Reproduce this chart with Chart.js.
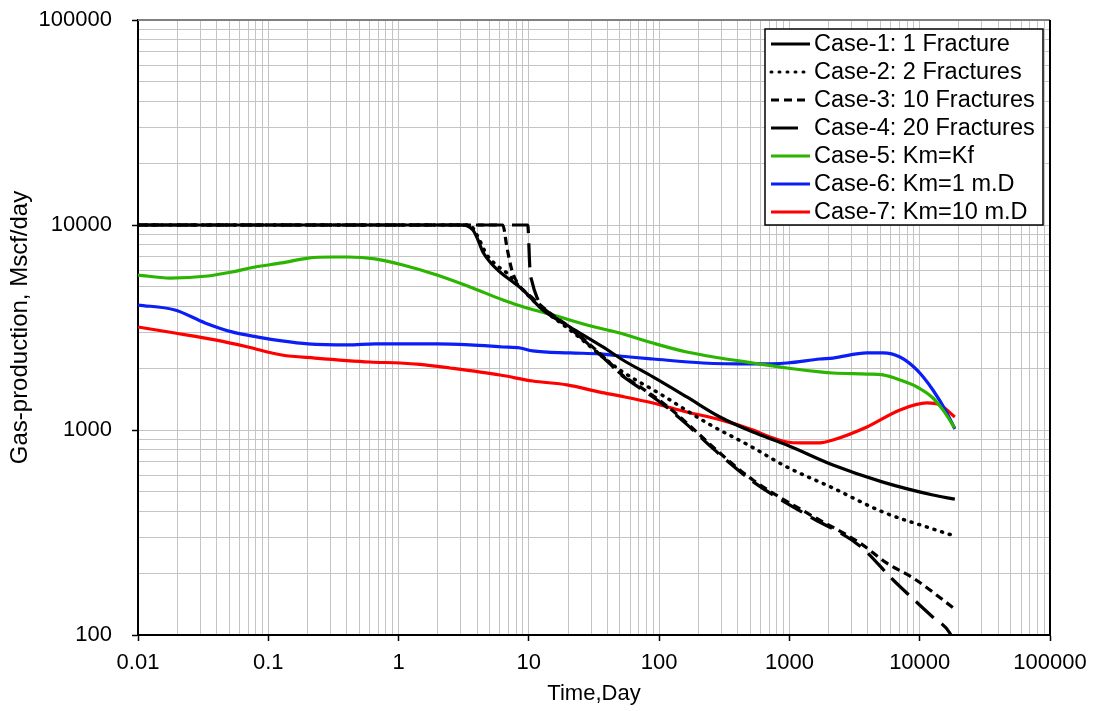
<!DOCTYPE html>
<html><head><meta charset="utf-8">
<script src="https://cdn.jsdelivr.net/npm/chart.js@4.4.1/dist/chart.umd.min.js"></script>
<style>html,body{margin:0;padding:0;background:#fff;} canvas{display:block;}</style>
</head><body>
<canvas id="c" width="1097" height="711"></canvas>
<script>
const seriesLabels = ['Case-1: 1 Fracture','Case-2: 2 Fractures','Case-3: 10 Fractures','Case-4: 20 Fractures','Case-5: Km=Kf','Case-6: Km=1 m.D','Case-7: Km=10 m.D'];

const case1Days = [0.01, 3.0, 3.72, 4.07, 4.44, 5.03, 6.0, 7.55, 9.01, 12.8, 20.7, 37.0, 52.7, 89.6, 163, 293, 525, 957, 2158, 5220, 12630, 18600];
const case1Gas  = [10000, 10000, 9460, 8450, 7390, 6600, 5900, 5270, 4820, 3850, 3180, 2541, 2195, 1815, 1449, 1157, 977, 845, 675, 557, 482, 460];

const case2Days = [0.01, 3.5, 4.0, 4.77, 5.6, 6.79, 8.5, 12.2, 20.7, 50, 105, 233, 515, 957, 2158, 5220, 12630, 18600];
const case2Gas  = [10000, 10000, 8935, 7140, 6400, 5830, 5000, 3980, 3075, 1963, 1482, 1082, 826, 660, 521, 398, 329, 304];

const case3Days = [0.01, 6.3, 6.8, 7.4, 8.1, 10.7, 14.5, 19.6, 41.9, 50, 71.3, 107, 163, 259, 525, 1362, 3475, 5600, 8870, 18600];
const case3Gas  = [10000, 10000, 7720, 6035, 5270, 4400, 3720, 3250, 2123, 1897, 1622, 1355, 1082, 826, 570, 394, 281, 224, 190, 134];

const case4Days = [0.01, 9.8, 10.2, 10.6, 11.5, 12.8, 14.5, 19.6, 41.9, 50, 71.3, 107, 163, 259, 525, 1362, 3475, 6230, 12630, 17060, 18600];
const case4Gas  = [10000, 10000, 6035, 5270, 4456, 3980, 3700, 3220, 2100, 1880, 1600, 1335, 1065, 812, 560, 385, 272, 186, 122, 102, 89];

const case5Days = [0.01, 0.0176, 0.0344, 0.0526, 0.079, 0.127, 0.202, 0.308, 0.409, 0.659, 1.08, 1.97, 3.53, 6.33, 9.67, 15.3, 27.9, 50, 89.6, 163, 293, 525, 957, 1714, 2158, 3936, 5220, 7050, 9510, 12630, 15070, 18600];
const case5Gas  = [5700, 5510, 5640, 5900, 6240, 6530, 6900, 6980, 6980, 6830, 6380, 5700, 4985, 4310, 3936, 3640, 3250, 2972, 2655, 2400, 2244, 2123, 2006, 1920, 1897, 1875, 1856, 1754, 1622, 1432, 1253, 1023];

const case6Days = [0.01, 0.0192, 0.0327, 0.0526, 0.0834, 0.127, 0.202, 0.409, 0.659, 1.03, 1.97, 3.53, 6.33, 8.55, 10.7, 20.7, 35.1, 59.7, 89.6, 217, 525, 957, 1714, 2158, 3936, 5220, 7050, 9510, 12630, 16180, 18600];
const case6Gas  = [4070, 3850, 3330, 3010, 2840, 2720, 2630, 2600, 2630, 2630, 2630, 2600, 2541, 2512, 2430, 2377, 2350, 2270, 2220, 2123, 2100, 2123, 2220, 2244, 2377, 2377, 2270, 1963, 1567, 1211, 1011];

const case7Days = [0.01, 0.0192, 0.039, 0.0698, 0.127, 0.228, 0.603, 1.03, 1.46, 2.48, 6.0, 10.7, 19.6, 35.1, 50, 89.6, 163, 293, 525, 708, 957, 1205, 1714, 2158, 3936, 7050, 11350, 14290, 18600];
const case7Gas  = [3180, 2972, 2750, 2541, 2322, 2244, 2147, 2123, 2090, 2006, 1854, 1734, 1660, 1531, 1466, 1355, 1224, 1124, 1000, 925, 874, 865, 865, 894, 1035, 1253, 1355, 1324, 1157];

const xTickLabels = ['0.01','0.1','1','10','100','1000','10000','100000'];
const yTickLabels = ['100','1000','10000','100000'];

const seriesColors = ['#000000','#000000','#000000','#000000','#2bb400','#0a1ef5','#ff0000'];
const seriesDashes = [[], [1,7], [8,5], [24,10], [], [], []];

const FONT = { family: "'Liberation Sans', Arial, sans-serif", size: 22 };
const LEGEND_FONT_SIZE = 23.5;
const TITLE_FONT = { family: "'Liberation Sans', Arial, sans-serif", size: 22 };
const YTITLE_FONT = { family: "'Liberation Sans', Arial, sans-serif", size: 24 };

function toPoints(xs, ys){ return xs.map((x,i)=>({x:x, y:ys[i]})); }
function buildTicks(labels){
  const majors = labels.map(Number);
  const out = [];
  for (let i=0;i<majors.length-1;i++){ for(let k=1;k<=9;k++){ out.push(k===1?majors[i]:majors[i]*k); } }
  out.push(majors[majors.length-1]);
  return out;
}
function isMajor(v){ const l=Math.log10(v); return Math.abs(l-Math.round(l))<1e-9; }
function labelOf(v, labels){ for (const s of labels){ if (Math.abs(Number(s)-v)/Number(s) < 1e-9) return s; } return ''; }

const allX = [case1Days,case2Days,case3Days,case4Days,case5Days,case6Days,case7Days];
const allY = [case1Gas,case2Gas,case3Gas,case4Gas,case5Gas,case6Gas,case7Gas];

const datasets = seriesLabels.map((lab,i)=>({
  label: lab,
  data: toPoints(allX[i], allY[i]),
  borderColor: seriesColors[i],
  backgroundColor: seriesColors[i],
  borderWidth: i===1 ? 3.5 : 3.2,
  borderDash: seriesDashes[i],
  borderCapStyle: i===1 ? 'round' : 'butt',
  pointRadius: 0,
  fill: false,
  cubicInterpolationMode: 'monotone'
}));

const framePlugin = {
  id: 'frameLegend',
  afterDraw(chart){
    const c = chart.ctx, a = chart.chartArea;
    c.save();
    c.strokeStyle = '#808080'; c.lineWidth = 2;
    c.beginPath(); c.moveTo(a.left, a.top); c.lineTo(a.right, a.top); c.stroke();
    c.strokeStyle = '#000'; c.lineWidth = 2;
    c.beginPath(); c.moveTo(a.right, a.top); c.lineTo(a.right, a.bottom+1); c.stroke();
    const bx = 765, by = 29, bw = 278, bh = 196;
    c.fillStyle = '#fff'; c.fillRect(bx, by, bw, bh);
    c.strokeStyle = '#000'; c.lineWidth = 1.5; c.strokeRect(bx, by, bw, bh);
    c.font = LEGEND_FONT_SIZE + 'px ' + FONT.family;
    c.textBaseline = 'middle'; c.textAlign = 'left';
    chart.data.datasets.forEach((d,i)=>{
      const y = 44 + 28*i;
      c.strokeStyle = d.borderColor; c.lineWidth = 3;
      c.setLineDash(i===3 ? [27,20] : (d.borderDash||[]));
      c.lineCap = i===1 ? 'round' : 'butt';
      c.beginPath(); c.moveTo(771, y); c.lineTo(810, y); c.stroke();
      c.setLineDash([]);
      c.fillStyle = '#000';
      c.fillText(d.label, 814, y+1);
    });
    c.restore();
  }
};

const tickColorFn = (ctx) => (ctx.tick && isMajor(ctx.tick.value)) ? '#000' : 'rgba(0,0,0,0)';

new Chart(document.getElementById('c'), {
  type: 'line',
  data: { datasets },
  plugins: [framePlugin],
  options: {
    responsive: false,
    animation: false,
    layout: { padding: { left: 0, right: 47, top: 20, bottom: 0 } },
    plugins: { legend: { display: false }, tooltip: { enabled: false } },
    scales: {
      x: {
        type: 'logarithmic', min: 0.01, max: 100000, position: 'bottom',
        afterBuildTicks: (s) => { s.ticks = buildTicks(xTickLabels).map(v=>({value:v})); },
        afterFit: (s) => { s.height = 76; s.paddingLeft = 0; s.paddingRight = 0; },
        ticks: { autoSkip: false, maxRotation: 0, minRotation: 0, color: '#000', font: FONT, padding: 9,
                 callback: (v) => labelOf(v, xTickLabels) },
        grid: { color: '#c4c4c4', lineWidth: 1, tickLength: 6, tickColor: tickColorFn, tickWidth: 1.5 },
        border: { color: '#000', width: 2 },
        title: { display: true, text: 'Time,Day', color: '#000', font: TITLE_FONT, padding: { top: 2, bottom: 4 } }
      },
      y: {
        type: 'logarithmic', min: 100, max: 100000, position: 'left',
        afterBuildTicks: (s) => { s.ticks = buildTicks(yTickLabels).map(v=>({value:v})); },
        afterFit: (s) => { s.width = 138; s.paddingTop = 0; s.paddingBottom = 0; },
        ticks: { autoSkip: false, color: '#000', font: FONT, padding: 20,
                 callback: (v) => labelOf(v, yTickLabels) },
        grid: { color: '#c4c4c4', lineWidth: 1, tickLength: 6, tickColor: tickColorFn, tickWidth: 1.5 },
        border: { color: '#000', width: 2 },
        title: { display: true, text: 'Gas-production, Mscf/day', color: '#000', font: YTITLE_FONT, padding: { top: 6, bottom: 0 } }
      }
    }
  }
});
</script>
</body></html>
